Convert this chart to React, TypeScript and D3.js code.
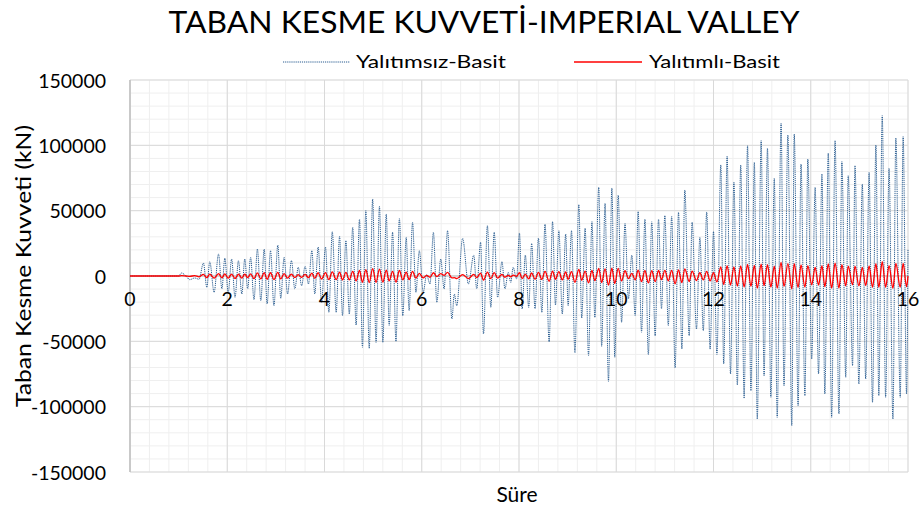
import React from "react";
import * as d3 from "d3";

const title = "TABAN KESME KUVVETİ-IMPERIAL VALLEY";
const seriesNames = ["Yalıtımsız-Basit", "Yalıtımlı-Basit"];
const xTicks = [0, 2, 4, 6, 8, 10, 12, 14, 16];
const yTicks = [-150000, -100000, -50000, 0, 50000, 100000, 150000];

// times (s) of the read-off extrema, shared by both series
const times = [
  0, 1.0, 1.06, 1.15, 1.23, 1.33, 1.42, 1.51, 1.58, 1.64,
  1.73, 1.82, 1.89, 1.95, 2.02, 2.09, 2.16, 2.23, 2.30, 2.36,
  2.42, 2.48, 2.55, 2.62, 2.69, 2.76, 2.82, 2.89, 2.96, 3.04,
  3.10, 3.17, 3.24, 3.32, 3.39, 3.46, 3.53, 3.60, 3.67, 3.74,
  3.80, 3.87, 3.94, 4.02, 4.09, 4.16, 4.24, 4.31, 4.37, 4.44,
  4.51, 4.58, 4.65, 4.72, 4.78, 4.85, 4.92, 4.99, 5.06, 5.13,
  5.20, 5.27, 5.33, 5.40, 5.47, 5.54, 5.61, 5.68, 5.74, 5.81,
  5.88, 5.95, 6.03, 6.10, 6.17, 6.24, 6.31, 6.39, 6.46, 6.53,
  6.62, 6.67, 6.72, 6.84, 6.96, 7.07, 7.13, 7.21, 7.27, 7.35,
  7.42, 7.49, 7.56, 7.65, 7.71, 7.78, 7.83, 7.88, 7.95, 8.01,
  8.065, 8.13, 8.20, 8.26, 8.33, 8.40, 8.47, 8.535, 8.62, 8.69,
  8.75, 8.82, 8.89, 8.96, 9.01, 9.08, 9.15, 9.23, 9.29, 9.36,
  9.43, 9.50, 9.56, 9.64, 9.70, 9.77, 9.84, 9.91, 9.97, 10.04,
  10.11, 10.18, 10.25, 10.32, 10.39, 10.45, 10.52, 10.59, 10.66, 10.73,
  10.80, 10.87, 10.93, 11.00, 11.07, 11.14, 11.21, 11.28, 11.35, 11.41,
  11.50, 11.56, 11.65, 11.72, 11.79, 11.86, 11.93, 12.00, 12.07, 12.15,
  12.21, 12.28, 12.35, 12.42, 12.49, 12.56, 12.63, 12.70, 12.77, 12.84,
  12.90, 12.98, 13.04, 13.11, 13.18, 13.25, 13.31, 13.39, 13.45, 13.53,
  13.61, 13.66, 13.74, 13.80, 13.88, 13.94, 14.02, 14.09, 14.16, 14.23,
  14.29, 14.36, 14.43, 14.50, 14.58, 14.64, 14.72, 14.77, 14.86, 14.91,
  14.99, 15.06, 15.13, 15.20, 15.27, 15.34, 15.40, 15.47, 15.54, 15.61,
  15.69, 15.75, 15.84, 15.90, 15.97, 16.0,
];

// Yalıtımsız-Basit (kN)
const yalitimsiz = [
  0, 0, 2300, 0, -2800, -1500, -2500, 9950, -8670, 10970,
  -12500, 16840, -9950, 13520, -12500, 13000, -16330, 11740, -13770, 13000,
  -9950, 14290, -18110, 20660, -18880, 20660, -21430, 19390, -22700, 23720,
  -17090, 14290, -13770, 11740, -9950, 6630, -7400, 7400, -6120, 19390,
  -13770, 22190, -20150, 22190, -27800, 33900, -27800, 30360, -30360, 27040,
  -29080, 37240, -37500, 43620, -54570, 49990, -55340, 58930, -50760, 53320,
  -50760, 47450, -38010, 33420, -49990, 44130, -30360, 29590, -26530, 41070,
  -12500, 19390, -12500, 1000, -6120, 33420, -20150, 13000, -9950, 34690,
  -32910, -13770, -22700, 28830, -6120, 16070, -9950, 25770, -44390, 38520,
  -23980, 33420, -16330, 10970, -9950, 2800, -4850, 6630, -2300, 32910,
  -25250, 16070, -24000, 24870, -25000, 29000, -27800, 39540, -50250, 41580,
  -22190, 34690, -29080, 32140, -22700, 34690, -58930, 54570, -32140, 36480,
  -60970, 41580, -31630, 67860, -53830, 55600, -80600, 67350, -62250, 61990,
  -35460, 40300, -17600, 16070, -30360, 49230, -43110, 43620, -60200, 41580,
  -45670, 43620, -25250, 46170, -38010, 45660, -70410, 48720, -55870, 65820,
  -45670, 41070, -40560, 29590, -41840, 49000, -56000, 33930, -60000, 85000,
  -67350, 91580, -75000, 71690, -83420, 84950, -93620, 99740, -87760, 86990,
  -109440, 103570, -76290, 97700, -92850, 74750, -108160, 116830, -83930, 107910,
  -114570, 108670, -99230, 85710, -91580, 89540, -63520, 67860, -75000, 78060,
  -90310, 94130, -108160, 103570, -105610, 87500, -77570, 76800, -68620, 84440,
  -82650, 70410, -78830, 79330, -96680, 100250, -91580, 122700, -92850, 82400,
  -109440, 105610, -92850, 106630, -90310, 20000,
];

// Yalıtımlı-Basit (kN)
const yalitimli = [
  0, 0, 300, 0, -300, 300, -600, 1200, -1300, 1500,
  -1600, 1800, -1400, 1600, -1700, 1500, -1900, 1400, -1600, 1500,
  -1300, 1700, -2000, 2400, -2200, 2600, -2500, 2500, -2700, 2800,
  -2200, 1800, -1600, 1500, -1300, 1000, -1100, 1200, -1200, 2200,
  -1800, 2500, -2300, 2600, -2800, 3200, -2800, 3000, -3000, 2800,
  -2900, 3600, -3800, 4300, -4800, 4800, -5000, 5600, -4800, 5200,
  -4700, 4500, -3800, 3500, -4600, 4200, -3000, 3000, -2800, 3600,
  -1600, 2000, -1500, 500, -1000, 2500, -500, 1800, 500, 2800,
  -1500, -1200, -2000, 1000, -2000, 1200, -1200, 2200, -3200, 3000,
  -2000, 2600, -1600, 1200, -1000, 500, -600, 700, -300, 2500,
  -2000, 1500, -2200, 2300, -2500, 2700, -2600, 3500, -4000, 3800,
  -2500, 3300, -2900, 3200, -2500, 3400, -4800, 5000, -3300, 3800,
  -5300, 4200, -3500, 5800, -5000, 5500, -7000, 6000, -5800, 5800,
  -3800, 4000, -2000, 2000, -3000, 4500, -4200, 4200, -5300, 4000,
  -4300, 4200, -2800, 4300, -3800, 4300, -6000, 4600, -5000, 5500,
  -4200, 3800, -3500, 2500, -3000, 3500, -3800, 2500, -4500, 7000,
  -6500, 8000, -7000, 7000, -7800, 7800, -8400, 8800, -8000, 8200,
  -9300, 9000, -7400, 8600, -8500, 7600, -9200, 10400, -8000, 9400,
  -9800, 9400, -8800, 8400, -8500, 7900, -6800, 6600, -7000, 7900,
  -8200, 9200, -9300, 9800, -9200, 8600, -7600, 7600, -6800, 7600,
  -7600, 6600, -7400, 7800, -8600, 9500, -8700, 11000, -8700, 8000,
  -9400, 9600, -8600, 9700, -8200, 0,
];

const W = 923;
const H = 515;
const FONT = "Lato, 'Open Sans', 'DejaVu Sans', sans-serif";

export default function App() {
  const x = d3.scaleLinear().domain([0, 16]).range([130, 908]);
  const y = d3.scaleLinear().domain([-150000, 150000]).range([472, 80]);

  const n = Math.min(times.length, yalitimsiz.length, yalitimli.length);
  const blueData: [number, number][] = [];
  const redData: [number, number][] = [];
  for (let i = 0; i < n; i++) {
    blueData.push([times[i], yalitimsiz[i]]);
    redData.push([times[i], yalitimli[i]]);
  }

  const line = d3
    .line<[number, number]>()
    .x((d) => x(d[0]))
    .y((d) => y(d[1]))
    .curve(d3.curveMonotoneX);

  const minorX = d3.range(0, 16.0001, 0.4).map((v) => Math.round(v * 10) / 10);
  const minorY = d3.range(-150000, 150001, 10000);

  return (
    <svg
      width={W}
      height={H}
      style={{ position: "absolute", left: 0, top: 0, background: "#fff" }}
      fontFamily={FONT}
    >
      <rect x={0} y={0} width={W} height={H} fill="#fff" />
      {/* minor grid */}
      <g stroke="#efefef" strokeWidth={1}>
        {minorX.map((v) => (
          <line key={"mx" + v} x1={x(v)} x2={x(v)} y1={y(150000)} y2={y(-150000)} />
        ))}
        {minorY.map((v) => (
          <line key={"my" + v} x1={x(0)} x2={x(16)} y1={y(v)} y2={y(v)} />
        ))}
      </g>
      {/* major grid */}
      <g stroke="#d9d9d9" strokeWidth={1}>
        {xTicks.map((v) => (
          <line key={"Mx" + v} x1={x(v)} x2={x(v)} y1={y(150000)} y2={y(-150000)} />
        ))}
        {yTicks.map((v) => (
          <line key={"My" + v} x1={x(0)} x2={x(16)} y1={y(v)} y2={y(v)} />
        ))}
      </g>
      {/* axes */}
      <line x1={x(0)} x2={x(0)} y1={y(150000)} y2={y(-150000)} stroke="#bfbfbf" strokeWidth={1.5} />
      <line x1={x(0)} x2={x(16)} y1={y(0)} y2={y(0)} stroke="#bfbfbf" strokeWidth={1} />

      {/* series */}
      <path
        d={line(blueData) || ""}
        fill="none"
        stroke="#2a5d91"
        strokeWidth={1}
        strokeDasharray="1.2 0.9"
      />
      <path d={line(redData) || ""} fill="none" stroke="#ff0000" strokeWidth={1.3} />

      {/* y tick labels */}
      {yTicks.map((v) => (
        <text
          key={"yt" + v}
          x={106}
          y={y(v)}
          textAnchor="end"
          dominantBaseline="central"
          fontSize={19.5}
          fill="#000"
        >
          {v}
        </text>
      ))}
      {/* x tick labels */}
      {xTicks.map((v) => (
        <text
          key={"xt" + v}
          x={x(v)}
          y={y(0) + 22}
          textAnchor="middle"
          dominantBaseline="central"
          fontSize={19.5}
          fill="#000"
        >
          {v}
        </text>
      ))}

      {/* title */}
      <text x={484} y={33} textAnchor="middle" fontSize={30} textLength={631} lengthAdjust="spacingAndGlyphs" fill="#000">
        {title}
      </text>

      {/* legend */}
      <line x1={283} x2={350} y1={62} y2={62} stroke="#2a5d91" strokeWidth={1} strokeDasharray="1.2 0.9" />
      <text x={356} y={68} fontSize={18} textLength={150} lengthAdjust="spacingAndGlyphs" fill="#000">
        {seriesNames[0]}
      </text>
      <line x1={574} x2={642} y1={62} y2={62} stroke="#ff0000" strokeWidth={1.3} />
      <text x={649} y={68} fontSize={18} textLength={131} lengthAdjust="spacingAndGlyphs" fill="#000">
        {seriesNames[1]}
      </text>

      {/* axis titles */}
      <text x={517} y={502} textAnchor="middle" fontSize={21} fill="#000">
        Süre
      </text>
      <text
        transform={`translate(31, 266) rotate(-90)`}
        textAnchor="middle"
        fontSize={21}
        textLength={282}
        lengthAdjust="spacingAndGlyphs"
        fill="#000"
      >
        Taban Kesme Kuvveti (kN)
      </text>
    </svg>
  );
}
